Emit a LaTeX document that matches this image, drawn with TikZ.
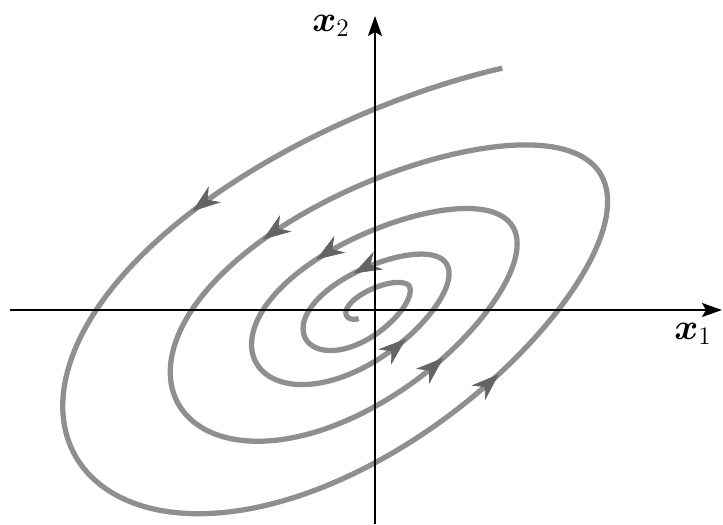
\documentclass[tikz,border=0pt]{standalone}
\usepackage{amsmath,amssymb}
\usepackage{xcolor}
\usetikzlibrary{arrows.meta}

\definecolor{trajgray}{gray}{0.56}
\definecolor{tipgray}{gray}{0.64}

\begin{document}
\begin{tikzpicture}[x=0.02cm, y=0.02cm,
    declare function={
      decay(\t)=exp(-0.07*\t)*min(1,1-0.022*(\t-5))*min(1,1-0.15*(\t-19));
      sx(\t)=-10+242*decay(\t)*cos(deg(\t));
      sy(\t)=175*decay(\t)*sin(deg(\t)+36+6*cos(deg(\t)));
    },
    axis/.style={line width=1.3pt, -{Stealth[length=4mm, width=2.8mm, inset=0.8mm]}},
    traj/.style={draw=trajgray, line width=3pt},
    trajtip/.style={draw=trajgray!70!black, fill=tipgray, line width=0.4pt,
      -{Stealth[length=5.6mm, width=4mm, inset=1.8mm]}},
    lab/.style={font=\fontsize{21}{25}\selectfont, inner sep=0.5pt}]
    \useasboundingbox (-375,-214) rectangle (348,310);

    % Stable focus: trajectory spiralling into the origin
    \draw[traj] plot[domain=-5.12:23, samples=700, smooth] ({sx(\x)},{sy(\x)});
    \foreach \t in {-4.15,2.08,8.25,14.3,-1.03,5.2,11.45}
      \draw[trajtip] plot[domain=\t-0.02:\t, samples=2] ({sx(\x)},{sy(\x)});

    % Axes
    \coordinate (O) at (0,0);
    \coordinate (xmin) at (-365,0);
    \coordinate (xmax) at (347,0);
    \coordinate (ymin) at (0,-214);
    \coordinate (ymax) at (0,294);
    \draw[axis] (xmin) -- (xmax);
    \draw[axis] (ymin) -- (ymax);
    \node[lab] (xlab) at (318,-24) {$\boldsymbol{x}_1$};
    \node[lab] (ylab) at (-44,284) {$\boldsymbol{x}_2$};
\end{tikzpicture}
\end{document}
